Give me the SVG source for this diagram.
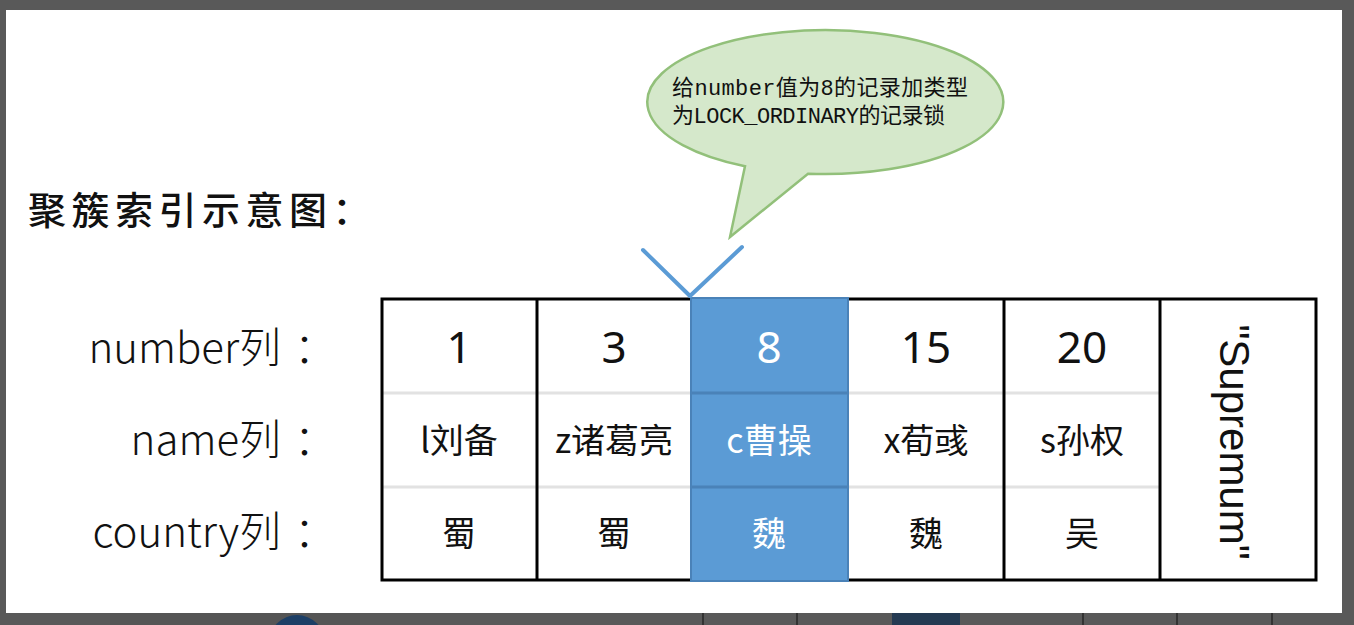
<svg xmlns="http://www.w3.org/2000/svg" width="1354" height="625" viewBox="0 0 1354 625">
<style>
.lbl{font-family:"Noto Sans CJK SC","Noto Sans",sans-serif;font-size:42px;font-weight:300;fill:#111}
.num{font-family:"Noto Sans","Noto Sans CJK SC",sans-serif;font-size:44px;fill:#111;text-anchor:middle}
.cell{font-family:"Noto Sans CJK SC",sans-serif;font-size:34px;fill:#111;text-anchor:middle}
.w{fill:#fff}
.sep{stroke:#e2e2e2;stroke-width:3}
.bsep{stroke:#4a82b8;stroke-width:3}
.cal{font-family:"Liberation Mono","Noto Sans CJK SC",monospace;font-size:22px;fill:#111}
</style>
<rect x="0" y="0" width="1354" height="625" fill="#595959"/>
<rect x="110" y="613" width="250" height="12" fill="#555"/>
<circle cx="297" cy="643" r="28" fill="#1d3f66"/>
<rect x="892" y="613" width="68" height="12" fill="#243a52"/>
<g stroke="#333" stroke-width="2">
<line x1="703" y1="613" x2="703" y2="625"/><line x1="797" y1="613" x2="797" y2="625"/><line x1="1083" y1="613" x2="1083" y2="625"/><line x1="1177" y1="613" x2="1177" y2="625"/><line x1="1272" y1="613" x2="1272" y2="625"/>
</g>
<rect x="6" y="10" width="1336" height="603" fill="#fff"/>

<g id="title">
<text x="28" y="224" font-family="'Noto Sans CJK SC',sans-serif" font-size="38" font-weight="500" letter-spacing="5.5" fill="#111">聚簇索引示意图：</text>
</g>

<g id="labels">
<text class="lbl" y="363"><tspan x="281" text-anchor="end">number列</tspan><tspan x="294">：</tspan></text>
<text class="lbl" y="455"><tspan x="281" text-anchor="end">name列</tspan><tspan x="294">：</tspan></text>
<text class="lbl" y="547"><tspan x="281" text-anchor="end">country列</tspan><tspan x="294">：</tspan></text>
</g>

<g id="table">
<rect x="382" y="299" width="934" height="281" fill="#fff"/>
<line class="sep" x1="382" y1="393" x2="1160" y2="393"/>
<line class="sep" x1="382" y1="487" x2="1160" y2="487"/>
<g id="rec-1">
<text class="num" x="459" y="363">1</text>
<text class="cell" x="459" y="453">l刘备</text>
<text class="cell" x="459" y="546">蜀</text>
</g>
<g id="rec-3">
<text class="num" x="614" y="363">3</text>
<text class="cell" x="614" y="453">z诸葛亮</text>
<text class="cell" x="614" y="546">蜀</text>
</g>
<g id="rec-15">
<text class="num" x="926" y="363">15</text>
<text class="cell" x="926" y="453">x荀彧</text>
<text class="cell" x="926" y="546">魏</text>
</g>
<g id="rec-20">
<text class="num" x="1082" y="363">20</text>
<text class="cell" x="1082" y="453">s孙权</text>
<text class="cell" x="1082" y="546">吴</text>
</g>
<g id="supremum">
<text transform="translate(1220,442) rotate(90)" font-family="'Liberation Sans',sans-serif" font-size="42" fill="#111" text-anchor="middle">"Supremum"</text>
</g>
<g fill="none" stroke="#000" stroke-width="3">
<rect x="382" y="299" width="934" height="281"/>
<line x1="537" y1="299" x2="537" y2="580"/>
<line x1="1004" y1="299" x2="1004" y2="580"/>
<line x1="1160" y1="299" x2="1160" y2="580"/>
</g>
<g id="rec-8">
<rect x="691" y="298" width="157" height="283" fill="#5b9bd5" stroke="#4a82b8" stroke-width="2"/>
<line class="bsep" x1="691" y1="393" x2="848" y2="393"/>
<line class="bsep" x1="691" y1="487" x2="848" y2="487"/>
<text class="num w" x="769" y="363">8</text>
<text class="cell w" x="769" y="453">c曹操</text>
<text class="cell w" x="769" y="546">魏</text>
</g>
</g>

<g id="callout">
<path d="M745,166.3 A178,72 0 1 1 808,173.7 L730,237 Z" fill="#d5e8cb" stroke="#92c07a" stroke-width="2.5"/>
<text class="cal" x="672" y="95" textLength="296" lengthAdjust="spacing">给number值为8的记录加类型</text>
<text class="cal" x="672" y="123" textLength="273" lengthAdjust="spacing">为LOCK_ORDINARY的记录锁</text>
</g>

<g id="connectors" stroke="#5b9bd5" stroke-width="4" fill="none" stroke-linecap="round">
<line x1="643" y1="250" x2="690" y2="296"/>
<line x1="742" y1="247" x2="690" y2="296"/>
</g>
</svg>
